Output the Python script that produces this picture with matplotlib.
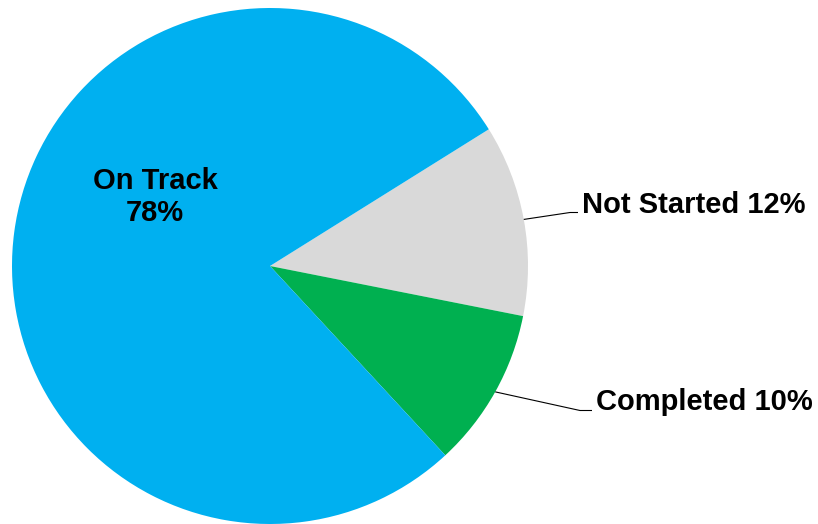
import numpy as np
import matplotlib.pyplot as plt

# slices, clockwise from the top-right edge
labels = ["Not Started", "Completed", "On Track"]
shares = [12, 10, 78]
colors = ["#D9D9D9", "#00B050", "#00B0F0"]

plt.rcParams['font.family'] = ['Liberation Sans', 'DejaVu Sans']

fig = plt.figure(figsize=(8.18, 5.24), dpi=100)
ax = fig.add_axes([0, 0, 1, 1])

cx, cy, r = 270, 258, 258
wedges, _ = ax.pie(shares, colors=colors, startangle=32, counterclock=False,
                   center=(cx, cy), radius=r, frame=True,
                   wedgeprops=dict(linewidth=0))
ax.set_xlim(0, 818)
ax.set_ylim(0, 524)
ax.set_aspect('equal')
ax.axis('off')

# outside labels with elbow leader lines
outside = {
    "Not Started": dict(elbow=(570, 311.5), end=(578, 311.5), text=(582, 319)),
    "Completed": dict(elbow=(580, 113.5), end=(592, 113.5), text=(596, 122)),
}
for w, lab, val in zip(wedges, labels, shares):
    if lab in outside:
        o = outside[lab]
        mid = np.deg2rad((w.theta1 + w.theta2) / 2)
        x0, y0 = cx + r * np.cos(mid), cy + r * np.sin(mid)
        ax.plot([x0, o["elbow"][0], o["end"][0]], [y0, o["elbow"][1], o["end"][1]],
                color='black', lw=0.8, solid_capstyle='butt')
        ax.text(o["text"][0], o["text"][1], f"{lab} {val}%", fontsize=21,
                fontweight='bold', ha='left', va='center')
    else:
        ax.text(155, 327, f"{lab}\n{val}%", fontsize=21, fontweight='bold',
                ha='center', va='center', linespacing=1.15)

fig.savefig("out.png", dpi=100)
